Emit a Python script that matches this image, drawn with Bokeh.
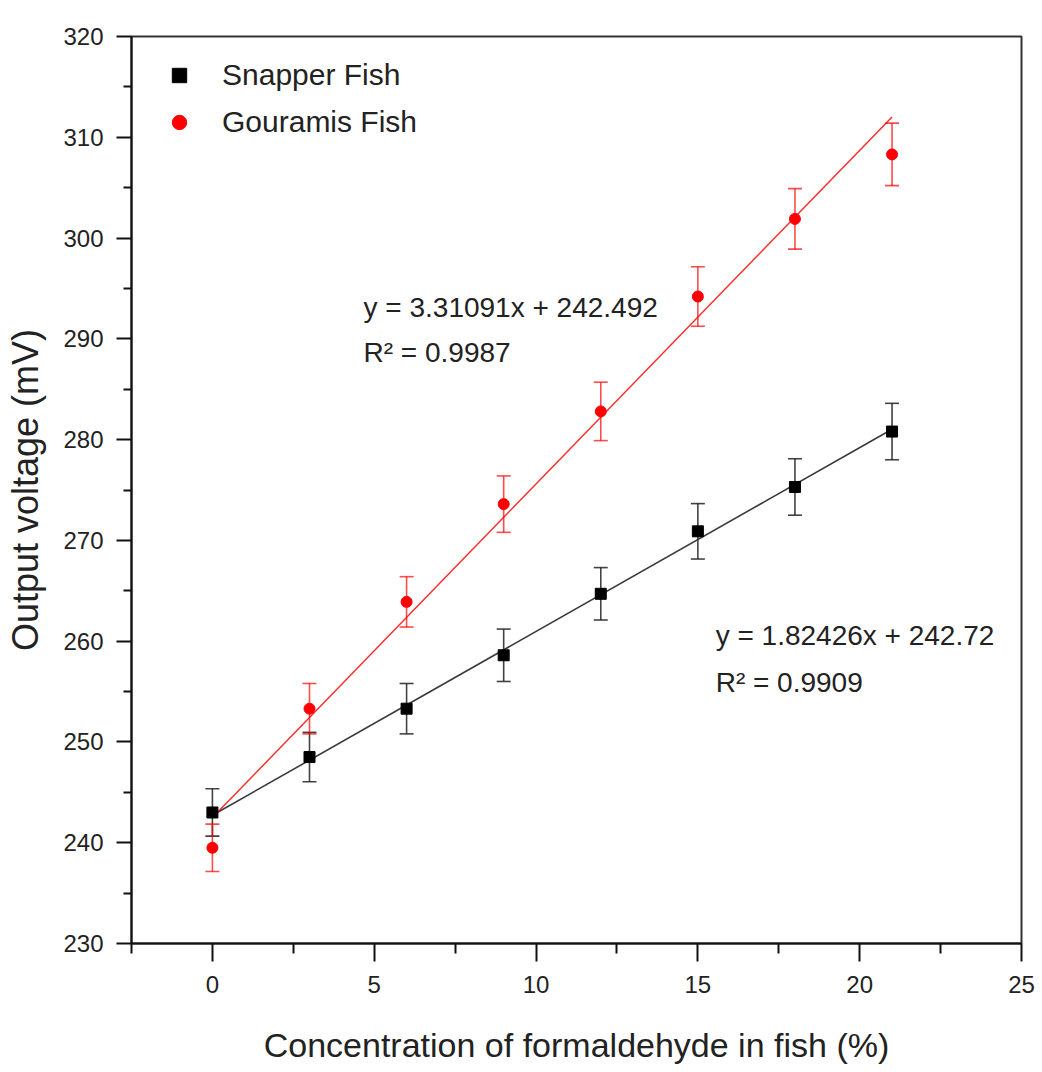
from bokeh.plotting import figure
from bokeh.models import (ColumnDataSource, Whisker, TeeHead, FixedTicker,
                          Legend, LegendItem, Label)
from bokeh.embed import file_html
from bokeh.resources import INLINE

# ---- data ----
conc = [0, 3, 6, 9, 12, 15, 18, 21]
snapper = [243.0, 248.5, 253.3, 258.6, 264.7, 270.9, 275.3, 280.8]
snapper_err = [2.35, 2.45, 2.5, 2.6, 2.6, 2.75, 2.8, 2.8]
gouramis = [239.5, 253.3, 263.9, 273.6, 282.8, 294.2, 301.9, 308.3]
gouramis_err = [2.35, 2.5, 2.5, 2.8, 2.9, 2.95, 3.0, 3.1]

snapper_fit = (1.82426, 242.72, 0.9909)
gouramis_fit = (3.31091, 242.492, 0.9987)
fit_x = [0, 21]

x_ticks = [0, 5, 10, 15, 20, 25]
x_minor = [-2.5, 2.5, 7.5, 12.5, 17.5, 22.5]
y_ticks = [230, 240, 250, 260, 270, 280, 290, 300, 310, 320]
y_minor = [235, 245, 255, 265, 275, 285, 295, 305, 315]

FONT = "Liberation Sans"
TXT = "#222222"
RED = "#ff0000"

p = figure(width=1041, height=1072, x_range=(-2.5, 25), y_range=(230, 320),
           output_backend="svg", toolbar_location=None,
           min_border_left=131, min_border_top=36, min_border_right=20,
           min_border_bottom=129)
p.xgrid.visible = False
p.ygrid.visible = False
p.background_fill_color = "white"
p.border_fill_color = "white"
p.outline_line_color = "#333333"
p.outline_line_width = 2

# axes
p.xaxis.ticker = FixedTicker(ticks=x_ticks, minor_ticks=x_minor)
p.yaxis.ticker = FixedTicker(ticks=y_ticks, minor_ticks=y_minor)
for ax in (p.xaxis[0], p.yaxis[0]):
    ax.axis_line_width = 2
    ax.axis_line_color = "#111111"
    ax.major_tick_line_width = 2
    ax.minor_tick_line_width = 2
    ax.major_tick_line_color = "#111111"
    ax.minor_tick_line_color = "#111111"
    ax.major_tick_in = 0
    ax.minor_tick_in = 0
    ax.major_label_text_font = FONT
    ax.major_label_text_color = TXT
    ax.major_label_text_font_size = "24px"
    ax.axis_label_text_font = FONT
    ax.axis_label_text_color = TXT
    ax.axis_label_text_font_style = "normal"

p.xaxis.major_tick_out = 18
p.xaxis.minor_tick_out = 10
p.xaxis.major_label_standoff = 14
p.xaxis.axis_label_standoff = 30
p.xaxis.axis_label_text_font_size = "34px"
p.xaxis.axis_label = "Concentration of formaldehyde in fish (%)"

p.yaxis.major_tick_out = 15
p.yaxis.minor_tick_out = 8
p.yaxis.major_label_standoff = 13
p.yaxis.axis_label_standoff = 14
p.yaxis.axis_label_text_font_size = "36px"
p.yaxis.axis_label = "Output voltage (mV)"

# fit lines
sfit_y = [snapper_fit[0] * x + snapper_fit[1] for x in fit_x]
gfit_y = [gouramis_fit[0] * x + gouramis_fit[1] for x in fit_x]
p.line(fit_x, sfit_y, line_color="#3a3a3a", line_width=1.6)
p.line(fit_x, gfit_y, line_color=RED, line_width=1.4, line_alpha=0.85)

# error bars
s_src = ColumnDataSource(dict(
    x=conc, y=snapper,
    lower=[v - e for v, e in zip(snapper, snapper_err)],
    upper=[v + e for v, e in zip(snapper, snapper_err)]))
g_src = ColumnDataSource(dict(
    x=conc, y=gouramis,
    lower=[v - e for v, e in zip(gouramis, gouramis_err)],
    upper=[v + e for v, e in zip(gouramis, gouramis_err)]))

for src, col, alpha in ((s_src, "#222222", 0.85), (g_src, RED, 0.7)):
    w = Whisker(source=src, base="x", lower="lower", upper="upper",
                line_color=col, line_width=1.6, line_alpha=alpha,
                upper_head=TeeHead(size=14, line_color=col, line_width=1.6, line_alpha=alpha),
                lower_head=TeeHead(size=14, line_color=col, line_width=1.6, line_alpha=alpha))
    p.add_layout(w)

r_s = p.scatter("x", "y", source=s_src, marker="square", size=11,
                fill_color="black", line_color="black")
r_g = p.scatter("x", "y", source=g_src, marker="circle", size=11,
                fill_color=RED, line_color=RED)

legend = Legend(items=[LegendItem(label="Snapper Fish", renderers=[r_s]),
                       LegendItem(label="Gouramis Fish", renderers=[r_g])],
                location="top_left", margin=21, padding=0,
                glyph_width=54, glyph_height=36, label_height=36,
                label_standoff=16, spacing=11,
                label_text_font=FONT, label_text_font_size="30px",
                label_text_color=TXT,
                border_line_color=None, background_fill_alpha=0)
p.add_layout(legend)

# equations
def eq_text(fit):
    return f"y = {fit[0]}x + {fit[1]}", f"R\u00b2 = {fit[2]}"

g1, g2 = eq_text(gouramis_fit)
s1, s2 = eq_text(snapper_fit)
for txt, x, y in ((g1, 4.67, 293.1), (g2, 4.67, 288.6),
                  (s1, 15.55, 260.6), (s2, 15.55, 255.9)):
    p.add_layout(Label(x=x, y=y, text=txt, text_font=FONT,
                       text_font_size="28px", text_color=TXT,
                       text_baseline="middle", text_align="left"))

open("out.html", "w").write(file_html(p, INLINE))
